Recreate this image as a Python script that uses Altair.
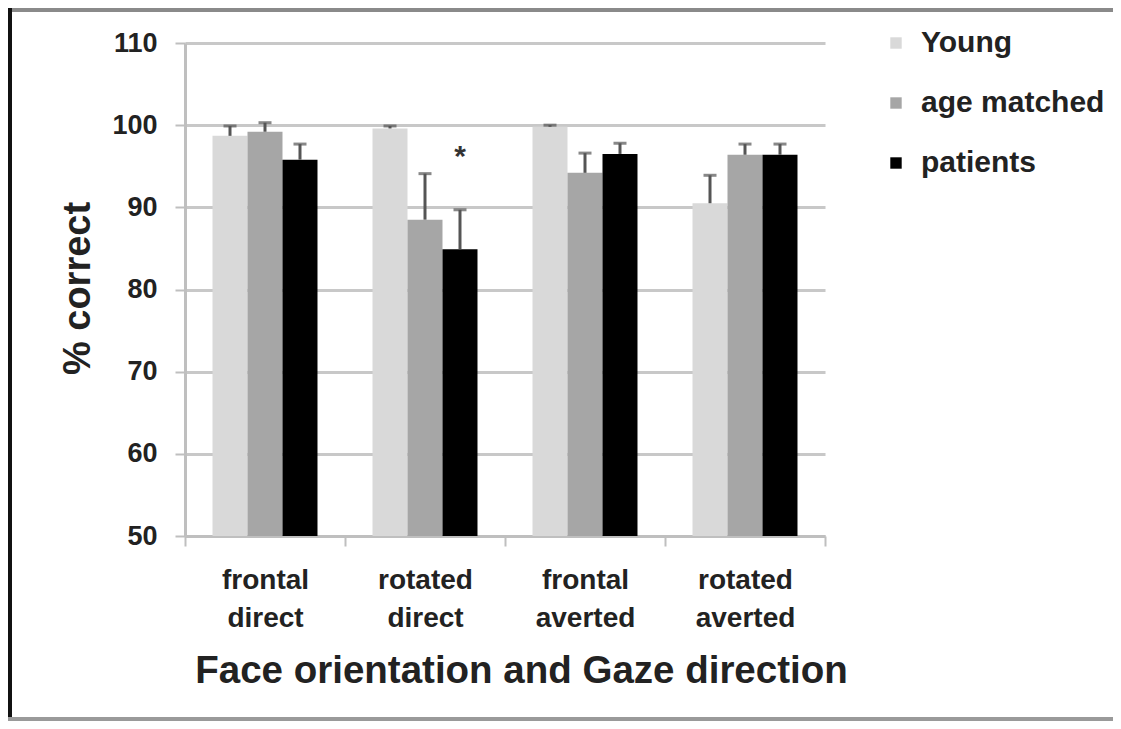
import altair as alt
import pandas as pd

categories = ["frontal direct", "rotated direct", "frontal averted", "rotated averted"]
groups = ["Young", "age matched", "patients"]
young = [98.7, 99.6, 99.8, 90.5]
young_err = [1.2, 0.3, 0.2, 3.4]
age_matched = [99.2, 88.5, 94.2, 96.4]
age_matched_err = [1.1, 5.6, 2.4, 1.3]
patients = [95.8, 84.9, 96.5, 96.4]
patients_err = [1.9, 4.8, 1.3, 1.3]
group_colors = ["#d9d9d9", "#a6a6a6", "#000000"]

# significance marker
star_category = ["rotated direct"]
star_group = ["patients"]
star_value = [97.3]

rows = []
for g, vals, errs in [("Young", young, young_err),
                      ("age matched", age_matched, age_matched_err),
                      ("patients", patients, patients_err)]:
    for c, v, e in zip(categories, vals, errs):
        rows.append({"cat": c, "group": g, "value": v, "upper": v + e})
df = pd.DataFrame(rows)
star_df = pd.DataFrame({"cat": star_category, "group": star_group, "value": star_value, "t": ["*"]})

FONT = "Liberation Sans"

x_enc = alt.X("cat:N", sort=categories,
              scale=alt.Scale(paddingInner=0, paddingOuter=0),
              axis=alt.Axis(title="Face orientation and Gaze direction",
                            labelExpr="split(datum.label, ' ')",
                            labelFontSize=28, labelFontWeight="bold", labelColor="#222",
                            labelLineHeight=38, labelPadding=20, labelAngle=0,
                            tickBand="extent", tickSize=10, tickWidth=2, tickColor="#bfbfbf",
                            domainColor="#bfbfbf", domainWidth=3,
                            titleFontSize=38.5, titleFontWeight="bold", titleColor="#222",
                            titleX=336, titleY=146, titleBaseline="alphabetic",
                            titleAnchor="middle"))
xo_enc = alt.XOffset("group:N", sort=groups,
                     scale=alt.Scale(paddingInner=0, paddingOuter=0.786))
y_scale = alt.Scale(domain=[50, 110], zero=False, nice=False)
y_enc = alt.Y("value:Q", scale=y_scale,
              axis=alt.Axis(title="% correct", values=[50, 60, 70, 80, 90, 100, 110],
                            labelFontSize=27, labelFontWeight="bold", labelColor="#222",
                            labelPadding=18, tickSize=10, tickWidth=2, tickColor="#bfbfbf",
                            domainColor="#bfbfbf", domainWidth=3,
                            grid=True, gridColor="#c8c8c8", gridWidth=3,
                            titleFontSize=38, titleFontWeight="bold", titleColor="#222",
                            titleX=-96, titleY=245, titleBaseline="alphabetic",
                            titleAngle=-90, titleAlign="center"))

base = alt.Chart(df)

bars = base.mark_bar(stroke=None).encode(
    x=x_enc, xOffset=xo_enc, y=y_enc, y2=alt.datum(50),
    color=alt.Color("group:N", sort=groups,
                    scale=alt.Scale(domain=groups, range=group_colors),
                    legend=alt.Legend(title=None, orient="none", legendX=696, legendY=-15,
                                      symbolType="square", symbolSize=130,
                                      symbolStrokeWidth=0, labelFontSize=30,
                                      labelFontWeight="bold", labelColor="#222",
                                      labelOffset=10, labelLimit=400, rowPadding=30)),
)

err_rule = base.mark_rule(color="#555555", strokeWidth=3).encode(
    x=alt.X("cat:N", sort=categories), xOffset=alt.XOffset("group:N", sort=groups),
    y=alt.Y("value:Q", scale=y_scale), y2="upper:Q",
)
err_cap = base.mark_tick(color="#555555", thickness=3, size=13).encode(
    x=alt.X("cat:N", sort=categories), xOffset=alt.XOffset("group:N", sort=groups),
    y=alt.Y("upper:Q", scale=y_scale),
)

star = alt.Chart(star_df).mark_text(fontSize=30, fontWeight="bold", color="#333",
                                    baseline="middle", dy=10, font=FONT).encode(
    x=alt.X("cat:N", sort=categories), xOffset=alt.XOffset("group:N", sort=groups),
    y=alt.Y("value:Q", scale=y_scale), text="t:N",
)

frame_data = alt.Data(values=[{"k": 1}])
top_line = alt.Chart(frame_data).mark_rule(color="#8a8a8a", strokeWidth=6).encode(
    x=alt.value(-177), x2=alt.value(928), y=alt.value(-34))
left_line = alt.Chart(frame_data).mark_rule(color="#111111", strokeWidth=4).encode(
    x=alt.value(-175), y=alt.value(-35), y2=alt.value(678))
bottom_line = alt.Chart(frame_data).mark_rule(color="#9a9a9a", strokeWidth=4).encode(
    x=alt.value(-177), x2=alt.value(928), y=alt.value(676))

chart = alt.layer(bars, err_rule, err_cap, star, top_line, left_line, bottom_line).properties(
    width=640, height=493,
    autosize=alt.AutoSizeParams(type="none"),
    padding={"left": 177, "top": 35, "right": 288, "bottom": 185},
    background="white",
).configure(font=FONT).configure_view(stroke=None)

chart.save("out.html", embed_options={"renderer": "svg", "actions": False})
